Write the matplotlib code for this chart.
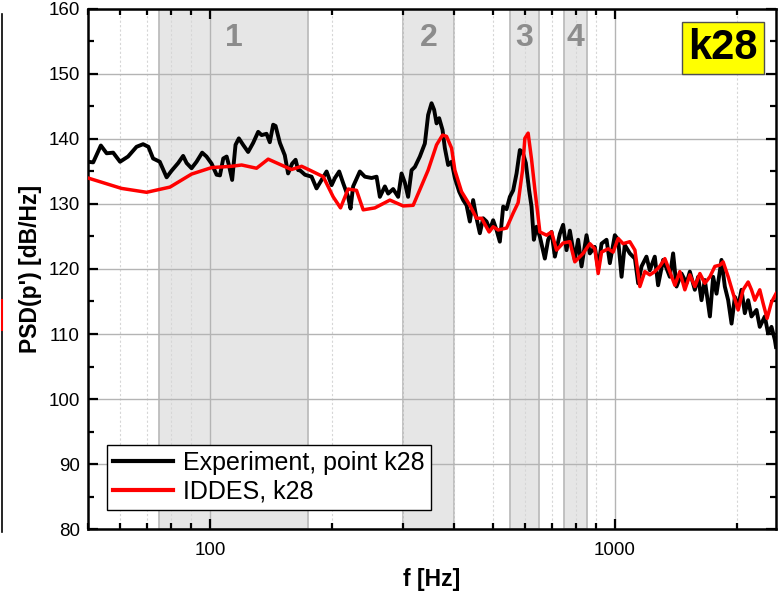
import numpy as np
import matplotlib
matplotlib.use("Agg")
import matplotlib.pyplot as plt
from matplotlib.ticker import LogLocator, FixedLocator, NullFormatter, MultipleLocator
from matplotlib.lines import Line2D

plt.rcParams['font.family'] = ['Liberation Sans', 'DejaVu Sans']

# experiment, point k28
exp_f = [50, 51.5, 53.8, 55.6, 57.7, 60, 62.8, 65.9, 68.4, 70.5,
         72.4, 75.2, 78.2, 80.4, 83.5, 85.9, 87.6, 90.1, 92.7, 95.7,
         98.1, 101, 103.9, 105.9, 107.9, 110, 111.4, 113.5, 115.7, 117.9,
         120.8, 124.3, 127.9, 131.6, 134.2, 138, 140.6, 143.3, 145.3, 148.9,
         153.1, 156, 159.6, 162.8, 165.2,
         166.8, 171.7, 178.3, 183.4, 188.7, 194.2, 199.8, 203.6, 208.6, 213.4,
         219.5, 222.5, 225.8, 234.6, 241.4, 250.8, 258, 262.9, 270.5, 275.6,
         283.5, 291.7, 297.4, 303, 308.7, 314.8, 320.8, 330, 339.5, 345.9,
         352.7, 357.9, 362.9, 368.3, 375.4, 380.4, 387.6, 395.2, 402.7, 412.7,
         422.2, 430.4, 438.5, 446.8, 455.5, 464.2, 473, 482.2, 491.3, 500.6,
         510.4, 520, 530, 540.3, 550.5, 561, 571.9, 582.7, 591.7, 602.9,
         614.3,
         622.7, 631, 640.8, 652.9, 671.7, 684.4, 697.8, 711.1, 731.5, 745.3,
         759.8, 774.3, 796.5, 811.7, 827.5, 851.3, 867.6, 892.5, 909.5, 927.3,
         953.9, 972.1, 1000, 1019, 1039, 1058, 1089, 1121, 1142, 1164,
         1197, 1220, 1255, 1279, 1316, 1342, 1367, 1393, 1420, 1461,
         1503, 1532, 1576, 1606, 1637, 1668, 1717, 1749, 1783, 1834,
         1869, 1905, 1942, 1979, 2016, 2055, 2094, 2134, 2175, 2238,
         2280, 2346, 2390, 2437, 2484, 2500]
exp_db = [136.5, 136.4, 139.0, 137.8, 137.9, 136.5, 137.3, 138.8, 139.2, 138.8,
          137.0, 136.5, 134.1, 135.1, 136.3, 137.4, 136.3, 135.5, 136.5, 137.9,
          137.3, 136.2, 134.5, 134.4, 137.0, 137.3, 136.0, 133.7, 139.1, 140.1,
          139.1, 138.0, 139.4, 141.1, 140.6, 140.8, 139.5, 142.2, 142.0, 139.4,
          137.5, 134.7, 136.2, 136.8, 135.2,
          135.2, 134.5, 134.2, 132.4, 133.7, 135.0, 132.9, 134.0, 135.0, 133.2,
          131.1, 129.3, 132.7, 135.0, 134.2, 134.0, 134.2, 131.1, 132.7, 131.6,
          132.3, 131.1, 134.7, 133.3, 131.1, 135.2, 135.7, 137.3, 139.3, 143.7,
          145.5, 144.5, 142.4, 143.2, 141.4, 138.6, 136.0, 136.5, 134.0, 131.9,
          130.6, 129.8, 127.3, 130.6, 127.8, 125.5, 127.8, 127.3, 126.0, 127.5,
          126.0, 124.2, 129.6, 129.2, 131.1, 132.1, 134.7, 138.3, 138.0, 136.3,
          132.1,
          129.6, 124.5, 126.5, 125.0, 121.6, 124.5, 125.7, 121.9, 125.4, 126.8,
          122.9, 125.9, 121.4, 124.5, 120.4, 125.2, 122.4, 123.4, 120.1, 123.9,
          124.5, 120.9, 125.2, 124.5, 118.8, 123.7, 122.4, 121.6, 117.8, 120.4,
          121.9, 119.8, 121.9, 117.5, 121.4, 120.1, 118.8, 122.4, 117.3, 119.3,
          117.8, 119.6, 116.8, 118.8, 115.2, 118.3, 112.7, 118.8, 116.2, 121.4,
          117.3, 115.2, 111.6, 115.7, 114.2, 116.8, 113.2, 115.2, 112.7, 113.7,
          111.1, 112.7, 110.1, 111.1, 109.1, 108.0]

# IDDES, k28
sim_f = [50, 60.5, 69.8, 79.7, 90.1, 101, 113, 119.8, 130.4, 139.3, 159, 168.5,
         176.6, 190.5, 201.6, 210.2, 219.5, 230.2, 239.1, 255.5, 278.3, 300.2,
         317.7, 330, 345.9, 362.9, 375.4, 384.1, 395.2, 402.7, 418.3, 438.5,
         455.5, 468.8, 489.3, 500.6, 515.1, 540.3, 561, 577.1, 591.7, 599.5,
         610.8, 622.7, 634.7, 646.6,
         652.9, 678.3, 697.8, 717.8, 745.3, 774.3, 796.5, 835, 867.6, 892.5,
         909.5, 927.3, 962.7, 990.4, 1019, 1048, 1089, 1121, 1153, 1186,
         1220, 1255, 1291, 1329, 1367, 1407, 1447, 1489, 1532, 1576,
         1622, 1668, 1717, 1766, 1817, 1851, 1905, 1960, 2016, 2074,
         2134, 2175, 2217, 2280, 2324, 2377, 2437, 2500]
sim_db = [134.0, 132.4, 131.8, 132.6, 134.6, 135.6, 135.8, 136.0, 135.5, 136.9, 135.3, 135.8,
          135.2, 134.2, 131.1, 129.4, 132.3, 132.1, 129.1, 129.4, 130.6, 129.7,
          129.8, 132.2, 135.2, 139.1, 140.6, 140.4, 138.6, 135.2, 131.9, 129.8,
          127.8, 127.8, 125.7, 126.5, 126.0, 126.3, 128.6, 130.2, 135.2, 140.1,
          140.9, 136.9, 132.2, 128.0,
          125.7, 125.2, 125.7, 122.9, 124.0, 124.2, 121.1, 122.4, 123.9, 123.1,
          119.3, 122.6, 123.1, 122.6, 124.7, 123.9, 124.2, 122.9, 117.3, 119.6,
          119.1, 119.6, 120.4, 121.6, 119.6, 117.5, 119.6, 116.8, 119.1, 117.3,
          119.3, 117.8, 118.8, 120.4, 120.6, 121.1, 118.8, 116.2, 113.7, 116.8,
          118.0, 116.8, 115.2, 116.8, 114.7, 112.4, 114.9, 116.2]

# frequency bands
band_lo = [75, 300, 551, 748]
band_hi = [175, 400, 650, 853]
band_names = ["1", "2", "3", "4"]

fig = plt.figure(figsize=(7.82, 6.03), dpi=100)
ax = fig.add_axes([0.1125, 0.1227, 0.8798, 0.8624])

for lo, hi, name in zip(band_lo, band_hi, band_names):
    ax.axvspan(lo, hi, facecolor="#e6e6e6", edgecolor="#bdbdbd", lw=1.3, zorder=0.2)
    ax.text(np.sqrt(lo * hi), 155.6, name, ha="center", va="center",
            fontsize=23, fontweight="bold", color="#8c8c8c", zorder=3)

ax.plot(exp_f, exp_db, color="black", lw=2.8, zorder=4, label="Experiment, point k28")
ax.plot(sim_f, sim_db, color="#ff0000", lw=2.5, zorder=5, label="IDDES, k28")

ax.set_xscale("log")
ax.set_xlim(50, 2500)
ax.set_ylim(80, 160)

ax.xaxis.set_major_locator(FixedLocator([100, 1000]))
ax.xaxis.set_minor_locator(LogLocator(base=10, subs=np.arange(2, 10), numticks=20))
ax.xaxis.set_minor_formatter(NullFormatter())
ax.set_xticklabels(["100", "1000"])
ax.yaxis.set_major_locator(MultipleLocator(10))
ax.yaxis.set_minor_locator(MultipleLocator(5))

ax.grid(which="major", color="#b4b4b4", lw=1.0, ls="-", zorder=0.5)
ax.grid(which="minor", axis="x", color="#d6d6d6", lw=0.8, ls=(0, (2, 2)), zorder=0.5)

ax.tick_params(which="both", direction="in", top=True, right=True, width=1.6,
               labelsize=13.5)
ax.tick_params(which="major", length=7)
ax.tick_params(which="minor", length=4.5)
ax.tick_params(axis="x", pad=9)
ax.tick_params(axis="y", pad=6)
for s in ax.spines.values():
    s.set_linewidth(1.8)

ax.set_xlabel("f [Hz]", fontsize=16.5, fontweight="bold")
ax.set_ylabel("PSD(p') [dB/Hz]", fontsize=16.5, fontweight="bold")
ax.xaxis.set_label_coords(0.5, -0.075)
ax.yaxis.set_label_coords(-0.067, 0.5)

ax.text(0.923, 0.925, "k28", transform=ax.transAxes, ha="center", va="center",
        fontsize=30, fontweight="bold", color="black", zorder=6,
        bbox=dict(boxstyle="square,pad=0.15", facecolor="#ffff00",
                  edgecolor="#505050", lw=1))

leg = ax.legend(loc="lower left", bbox_to_anchor=(0.0276, 0.0365), borderaxespad=0,
                fontsize=18, frameon=True, fancybox=False, edgecolor="black",
                framealpha=1, handlelength=2.4, handletextpad=0.4,
                borderpad=0.25, labelspacing=0.2)
leg.get_frame().set_linewidth(1.0)
for h in leg.get_lines():
    h.set_linewidth(3)

# cut edge of the neighbouring panel at the far left
fig.add_artist(Line2D([0.003, 0.003], [1 - 14 / 603, 1 - 532 / 603],
                      color="black", lw=1.2, transform=fig.transFigure))
fig.add_artist(Line2D([0.003, 0.003], [1 - 300 / 603, 1 - 330 / 603],
                      color="red", lw=1.5, transform=fig.transFigure))

fig.savefig("out.png", dpi=100)
